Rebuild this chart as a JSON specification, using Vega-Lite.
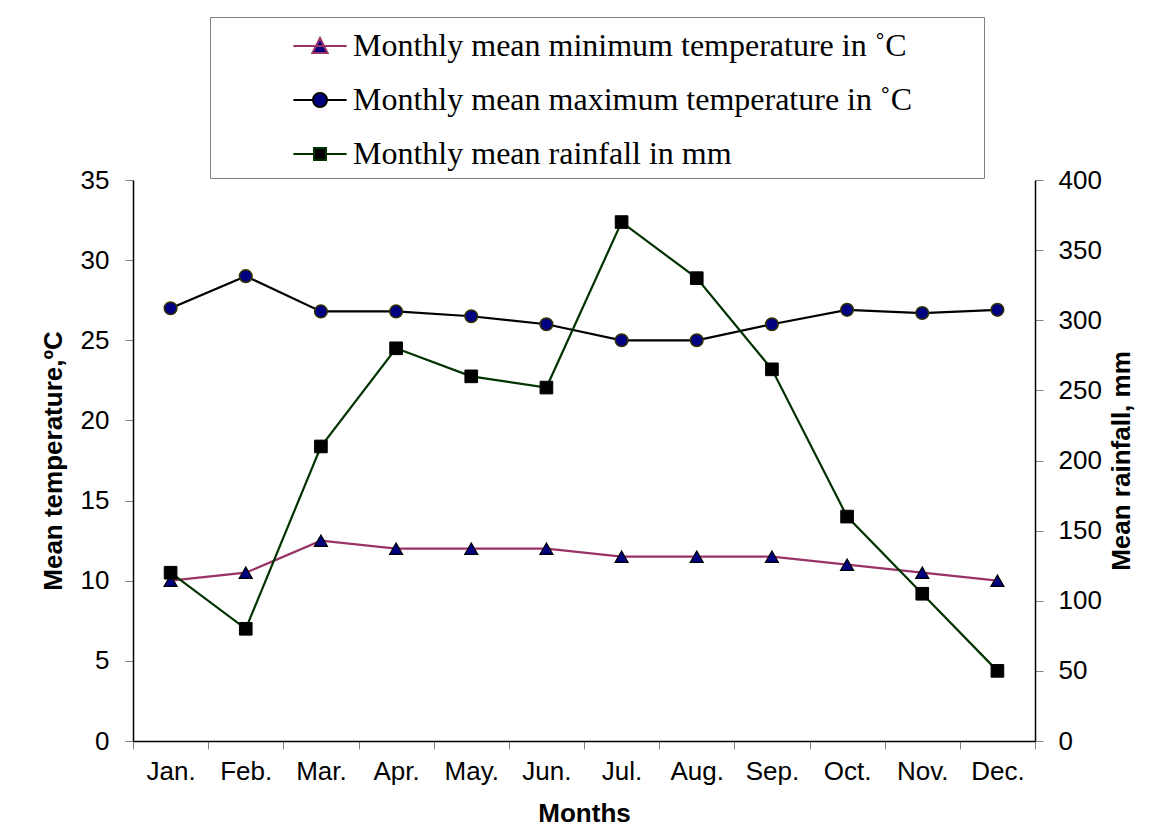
{
  "$schema": "https://vega.github.io/schema/vega-lite/v6.json",
  "width": 902,
  "height": 561,
  "autosize": {"type": "none"},
  "padding": {"left": 133, "top": 180, "right": 128, "bottom": 99},
  "background": "white",
  "config": {
    "view": {"stroke": null},
    "axis": {
      "labelFont": "Liberation Sans",
      "labelFontSize": 26,
      "labelColor": "black",
      "titleFont": "Liberation Sans",
      "titleFontSize": 26,
      "titleFontWeight": "bold",
      "titleColor": "black",
      "domainColor": "black",
      "domainWidth": 1.5,
      "tickColor": "#808080",
      "tickSize": 8,
      "grid": false
    }
  },
  "data": {
    "values": [
      {"month": "Jan.", "series": "Monthly mean minimum temperature in ˚C", "value": 10},
      {"month": "Feb.", "series": "Monthly mean minimum temperature in ˚C", "value": 10.5},
      {"month": "Mar.", "series": "Monthly mean minimum temperature in ˚C", "value": 12.5},
      {"month": "Apr.", "series": "Monthly mean minimum temperature in ˚C", "value": 12},
      {"month": "May.", "series": "Monthly mean minimum temperature in ˚C", "value": 12},
      {"month": "Jun.", "series": "Monthly mean minimum temperature in ˚C", "value": 12},
      {"month": "Jul.", "series": "Monthly mean minimum temperature in ˚C", "value": 11.5},
      {"month": "Aug.", "series": "Monthly mean minimum temperature in ˚C", "value": 11.5},
      {"month": "Sep.", "series": "Monthly mean minimum temperature in ˚C", "value": 11.5},
      {"month": "Oct.", "series": "Monthly mean minimum temperature in ˚C", "value": 11},
      {"month": "Nov.", "series": "Monthly mean minimum temperature in ˚C", "value": 10.5},
      {"month": "Dec.", "series": "Monthly mean minimum temperature in ˚C", "value": 10},
      {"month": "Jan.", "series": "Monthly mean maximum temperature in ˚C", "value": 27},
      {"month": "Feb.", "series": "Monthly mean maximum temperature in ˚C", "value": 29},
      {"month": "Mar.", "series": "Monthly mean maximum temperature in ˚C", "value": 26.8},
      {"month": "Apr.", "series": "Monthly mean maximum temperature in ˚C", "value": 26.8},
      {"month": "May.", "series": "Monthly mean maximum temperature in ˚C", "value": 26.5},
      {"month": "Jun.", "series": "Monthly mean maximum temperature in ˚C", "value": 26},
      {"month": "Jul.", "series": "Monthly mean maximum temperature in ˚C", "value": 25},
      {"month": "Aug.", "series": "Monthly mean maximum temperature in ˚C", "value": 25},
      {"month": "Sep.", "series": "Monthly mean maximum temperature in ˚C", "value": 26},
      {"month": "Oct.", "series": "Monthly mean maximum temperature in ˚C", "value": 26.9},
      {"month": "Nov.", "series": "Monthly mean maximum temperature in ˚C", "value": 26.7},
      {"month": "Dec.", "series": "Monthly mean maximum temperature in ˚C", "value": 26.9},
      {"month": "Jan.", "series": "Monthly mean rainfall in mm", "value": 120},
      {"month": "Feb.", "series": "Monthly mean rainfall in mm", "value": 80},
      {"month": "Mar.", "series": "Monthly mean rainfall in mm", "value": 210},
      {"month": "Apr.", "series": "Monthly mean rainfall in mm", "value": 280},
      {"month": "May.", "series": "Monthly mean rainfall in mm", "value": 260},
      {"month": "Jun.", "series": "Monthly mean rainfall in mm", "value": 252},
      {"month": "Jul.", "series": "Monthly mean rainfall in mm", "value": 370},
      {"month": "Aug.", "series": "Monthly mean rainfall in mm", "value": 330},
      {"month": "Sep.", "series": "Monthly mean rainfall in mm", "value": 265},
      {"month": "Oct.", "series": "Monthly mean rainfall in mm", "value": 160},
      {"month": "Nov.", "series": "Monthly mean rainfall in mm", "value": 105},
      {"month": "Dec.", "series": "Monthly mean rainfall in mm", "value": 50}
    ]
  },
  "encoding": {
    "x": {
      "field": "month",
      "type": "nominal",
      "sort": null,
      "scale": {"paddingInner": 0, "paddingOuter": 0},
      "axis": {
        "title": "Months",
        "labelAngle": 0,
        "tickBand": "extent",
        "labelPadding": 9,
        "titlePadding": 16
      }
    }
  },
  "layer": [
    {
      "transform": [{"filter": "datum.series !== 'Monthly mean rainfall in mm'"}],
      "encoding": {
        "y": {
          "field": "value",
          "type": "quantitative",
          "scale": {"domain": [0, 35]},
          "axis": {
            "title": "Mean temperature,ºC",
            "orient": "left",
            "values": [0, 5, 10, 15, 20, 25, 30, 35],
            "labelPadding": 16,
            "titlePadding": 14
          }
        }
      },
      "layer": [
        {
          "mark": {"type": "line", "strokeWidth": 2.2},
          "encoding": {
            "color": {
              "field": "series",
              "type": "nominal",
              "scale": {
                "domain": ["Monthly mean minimum temperature in ˚C", "Monthly mean maximum temperature in ˚C", "Monthly mean rainfall in mm"],
                "range": ["#993366", "#000000", "#003300"]
              },
              "legend": {
                "orient": "none",
                "legendX": 77,
                "legendY": -163,
                "direction": "vertical",
                "title": null,
                "strokeColor": "#808080",
                "padding": 8,
                "symbolSize": 1600,
                "symbolOffset": 81,
                "symbolStrokeWidth": 2,
                "labelFont": "Liberation Serif",
                "labelFontSize": 32,
                "labelColor": "black",
                "labelOffset": 12,
                "labelLimit": 0,
                "rowPadding": 17,
                "labelExpr": "datum.label + '\u2003\u2003\u200b'",
                "encode": {
                  "symbols": {
                    "update": {
                      "shape": {"signal": "datum.index === 0 ? 'M-1.33,0H1.33M0,-0.4L0.38,0.35L-0.38,0.35Z' : datum.index === 1 ? 'M-1.33,0H-0.35M0.35,0H1.33M0.35,0A0.35,0.35,0,1,1,-0.35,0A0.35,0.35,0,1,1,0.35,0Z' : 'M-1.33,0H-0.3M0.3,0H1.33M-0.3,-0.3H0.3V0.3H-0.3Z'"},
                      "fill": {"signal": "datum.index === 2 ? '#000000' : '#000080'"},
                      "strokeWidth": {"value": 2},
                      "opacity": {"value": 1}
                    }
                  }
                }
              }
            }
          }
        },
        {
          "transform": [{"filter": "datum.series === 'Monthly mean minimum temperature in ˚C'"}],
          "mark": {"type": "point", "shape": "triangle-up", "filled": true, "fill": "#000080", "size": 170, "stroke": "#000000", "strokeWidth": 1.2, "opacity": 1}
        },
        {
          "transform": [{"filter": "datum.series === 'Monthly mean maximum temperature in ˚C'"}],
          "mark": {"type": "point", "shape": "circle", "filled": true, "fill": "#000080", "size": 160, "stroke": "#333300", "strokeWidth": 1.5, "opacity": 1}
        }
      ]
    },
    {
      "transform": [{"filter": "datum.series === 'Monthly mean rainfall in mm'"}],
      "encoding": {
        "y": {
          "field": "value",
          "type": "quantitative",
          "scale": {"domain": [0, 400]},
          "axis": {
            "title": "Mean rainfall, mm",
            "orient": "right",
            "values": [0, 50, 100, 150, 200, 250, 300, 350, 400],
            "labelPadding": 15,
            "titleAngle": 270,
            "titleBaseline": "top",
            "titlePadding": 7
          }
        }
      },
      "layer": [
        {
          "mark": {"type": "line", "strokeWidth": 2.2},
          "encoding": {
            "color": {
              "field": "series",
              "type": "nominal"
            }
          }
        },
        {
          "mark": {"type": "point", "shape": "square", "filled": true, "fill": "#000000", "size": 160, "stroke": "#000000", "strokeWidth": 1, "opacity": 1}
        }
      ]
    }
  ],
  "resolve": {"scale": {"y": "independent"}}
}
